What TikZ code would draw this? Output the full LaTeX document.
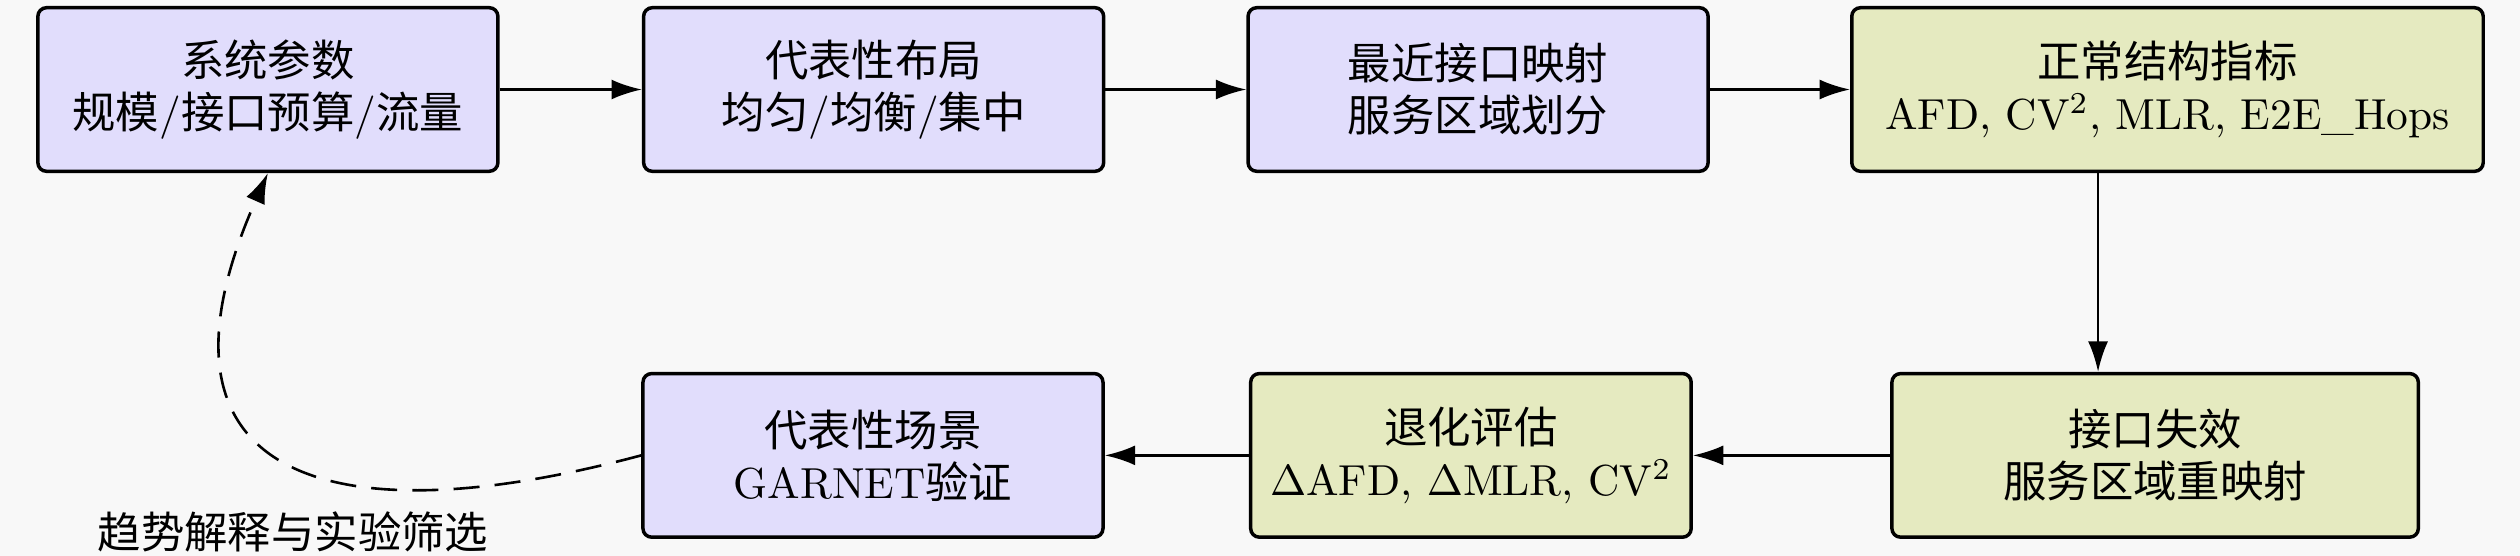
\documentclass[tikz,border=0pt]{standalone}
\usepackage{fontspec}
\usepackage{mathtools}
\usetikzlibrary{arrows.meta}
\newfontfamily\zhfont{Noto Sans CJK SC}
\newcommand{\zh}[1]{{\zhfont #1}}
\definecolor{boxlilac}{RGB}{225,221,252}
\definecolor{boxolive}{RGB}{229,234,192}
\definecolor{pagegray}{RGB}{248,248,248}

\begin{document}
\begin{tikzpicture}[x=0.75pt,y=0.75pt,yscale=-1,xscale=1,
  stagebox/.style={draw, thick, rounded corners=2pt, align=center, minimum height=37.7pt, inner sep=4pt},
  lilacbox/.style={stagebox, fill=boxlilac, minimum width=106pt},
  olivebox/.style={stagebox, fill=boxolive},
  flowarrow/.style={semithick, -{Latex[length=7pt,width=4.6pt]}},
  loopback/.style={flowarrow, dash pattern={on 6pt off 3.5pt}}]
\useasboundingbox (0,0) rectangle (774.2,170.8) ;

%Shape: Rectangle (page)
\fill [pagegray] (0,0) rectangle (774.2,170.8) ;

%Shape: Rectangle [top row]
\node [lilacbox] (params) at (82.3,27.5) {\zh{系统参数}\\\zh{规模}/\zh{接口预算}/\zh{流量}} ;
\node [lilacbox] (layout) at (268.4,27.5) {\zh{代表性布局}\\\zh{均匀}/\zh{均衡}/\zh{集中}} ;
\node [lilacbox] (mapping) at (454.1,27.5) {\zh{最近接口映射}\\\zh{服务区域划分}} ;
\node [olivebox, minimum width=145.5pt] (metrics) at (665.9,27.5) {\zh{正常结构指标}\\AFD, CV$^2$, MLR, E2E\_Hops} ;

%Shape: Rectangle [bottom row]
\node [olivebox, minimum width=121.3pt] (failure) at (662.1,139.9) {\zh{接口失效}\\\zh{服务区域重映射}} ;
\node [olivebox, minimum width=101.5pt] (degrade) at (451.9,139.9) {\zh{退化评估}\\$\Delta$AFD, $\Delta$MLR, CV$^2$} ;
\node [lilacbox] (scene) at (268.2,139.9) {\zh{代表性场景}\\GARNET\zh{验证}} ;

%Straight Lines
\draw [flowarrow] (params) -- (layout) ;
\draw [flowarrow] (layout) -- (mapping) ;
\draw [flowarrow] (mapping) -- (metrics) ;
\draw [flowarrow] ([xshift=-16pt]metrics.south) -- ([xshift=-16pt]metrics.south |- failure.north) ;
\draw [flowarrow] (failure) -- (degrade) ;
\draw [flowarrow] (degrade) -- (scene) ;

%Curve Lines
\draw [loopback] (scene.west) to[out=165,in=114,looseness=1.8] (params.south) ;
\node (trend) at (90.0,163.4) {\zh{趋势解释与实验筛选}} ;

\end{tikzpicture}
\end{document}
